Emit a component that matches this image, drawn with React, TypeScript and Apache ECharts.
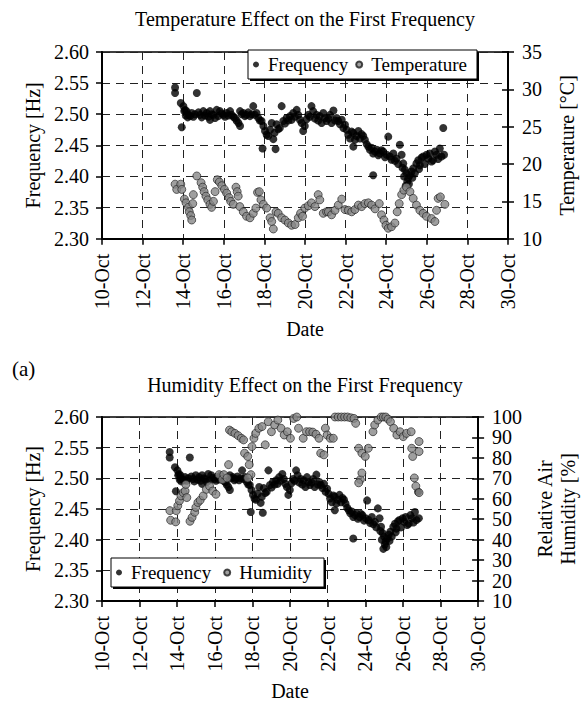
import React, { useEffect, useRef } from "react";
import * as echarts from "echarts";

const FONT = "Liberation Serif";
const MONTH = "Oct";

const freqDays = [
  13.6, 13.6, 13.88, 13.93, 14.01, 14.05, 14.09, 14.13, 14.17, 14.22, 14.26, 14.34, 14.42, 14.5, 14.58, 14.67,
  14.75, 14.83, 14.91, 14.99, 15.07, 15.16, 15.24, 15.32, 15.32, 15.4, 15.49, 15.57, 15.65, 15.73, 15.81, 15.9,
  15.98, 16.06, 16.14, 16.22, 16.31, 16.39, 16.47, 16.55, 16.63, 16.72, 16.8, 16.8, 16.88, 16.96, 17.04, 17.12,
  17.2, 17.29, 17.37, 17.45, 17.53, 17.61, 17.7, 17.78, 17.86, 17.91, 17.95, 18.03, 18.11, 18.19, 18.28, 18.36,
  18.44, 18.5, 18.55, 18.6, 18.68, 18.76, 18.85, 18.93, 19.01, 19.09, 19.18, 19.26, 19.34, 19.42, 19.5, 19.59,
  19.67, 19.75, 19.83, 19.91, 19.99, 20.08, 20.16, 20.24, 20.32, 20.4, 20.49, 20.57, 20.65, 20.73, 20.82, 20.9,
  20.98, 21.06, 21.15, 21.23, 21.31, 21.4, 21.48, 21.56, 21.64, 21.72, 21.81, 21.89, 21.97, 22.05, 22.13, 22.22,
  22.3, 22.38, 22.38, 22.46, 22.54, 22.63, 22.71, 22.79, 22.87, 22.95, 23.04, 23.12, 23.2, 23.28, 23.36, 23.36,
  23.45, 23.53, 23.61, 23.69, 23.77, 23.85, 23.94, 24.02, 24.1, 24.18, 24.26, 24.35, 24.43, 24.51, 24.59, 24.67,
  24.76, 24.8, 24.84, 24.88, 24.92, 24.96, 25.0, 25.04, 25.08, 25.12, 25.17, 25.25, 25.29, 25.33, 25.41, 25.49,
  25.58, 25.62, 25.66, 25.74, 25.82, 25.9, 25.99, 26.07, 26.15, 26.23, 26.31, 26.4, 26.48, 26.56, 26.64, 26.72,
  26.81, 26.85,
];
const freqValues = [
  2.543, 2.534, 2.518, 2.479, 2.513, 2.505, 2.507, 2.498, 2.505, 2.495, 2.499, 2.497, 2.502, 2.496, 2.5, 2.534,
  2.503, 2.499, 2.495, 2.505, 2.498, 2.502, 2.496, 2.491, 2.505, 2.5, 2.499, 2.494, 2.507, 2.497, 2.505, 2.501,
  2.499, 2.496, 2.502, 2.498, 2.505, 2.499, 2.496, 2.494, 2.49, 2.486, 2.481, 2.505, 2.5, 2.502, 2.497, 2.499,
  2.503, 2.497, 2.5, 2.513, 2.499, 2.502, 2.494, 2.49, 2.489, 2.445, 2.481, 2.473, 2.467, 2.465, 2.475, 2.486,
  2.46, 2.47, 2.444, 2.484, 2.476, 2.478, 2.513, 2.489, 2.485, 2.494, 2.49, 2.497, 2.491, 2.502, 2.496, 2.507,
  2.499, 2.491, 2.486, 2.473, 2.481, 2.492, 2.499, 2.496, 2.513, 2.505, 2.493, 2.499, 2.49, 2.497, 2.486, 2.502,
  2.494, 2.489, 2.493, 2.499, 2.486, 2.506, 2.49, 2.494, 2.489, 2.484, 2.491, 2.478, 2.483, 2.475, 2.467, 2.461,
  2.472, 2.47, 2.448, 2.459, 2.465, 2.473, 2.461, 2.468, 2.465, 2.459, 2.452, 2.448, 2.443, 2.446, 2.437, 2.402,
  2.44, 2.443, 2.434, 2.437, 2.442, 2.44, 2.431, 2.435, 2.464, 2.432, 2.427, 2.437, 2.425, 2.429, 2.42, 2.451,
  2.435, 2.414, 2.421, 2.4, 2.411, 2.385, 2.405, 2.392, 2.397, 2.388, 2.402, 2.408, 2.398, 2.413, 2.405, 2.421,
  2.426, 2.412, 2.418, 2.43, 2.432, 2.42, 2.435, 2.429, 2.437, 2.424, 2.426, 2.44, 2.435, 2.428, 2.445, 2.432,
  2.478, 2.435,
];

const tempDays = [
  13.6, 13.68, 13.88, 13.93, 14.06, 14.14, 14.26, 14.3, 14.37, 14.42, 14.5, 14.47, 14.67, 14.88, 14.96, 15.03,
  15.12, 15.21, 15.32, 15.4, 15.49, 15.57, 15.68, 15.78, 15.9, 16.03, 16.14, 16.26, 16.34, 16.47, 16.6, 16.66,
  16.71, 16.79, 16.96, 17.12, 17.29, 17.45, 17.58, 17.66, 17.75, 17.83, 17.95, 18.11, 18.28, 18.36, 18.44, 18.57,
  18.68, 18.85, 19.01, 19.18, 19.34, 19.51, 19.67, 19.78, 19.88, 19.99, 20.16, 20.32, 20.49, 20.65, 20.73, 20.9,
  21.06, 21.15, 21.31, 21.48, 21.64, 21.81, 21.97, 22.13, 22.3, 22.46, 22.63, 22.79, 22.95, 23.12, 23.28, 23.45,
  23.66, 23.77, 23.89, 23.99, 24.1, 24.26, 24.43, 24.54, 24.64, 24.76, 24.87, 25.0, 25.17, 25.33, 25.49, 25.66,
  25.82, 25.98, 26.23, 26.4, 26.48, 26.56, 26.67, 26.89,
];
const tempValues = [
  17.3, 16.6, 17.3, 16.6, 15.3, 14.8, 14.2, 13.6, 13.1, 12.5, 15.9, 14.7, 18.4, 17.5, 16.9, 16.3,
  15.7, 15.2, 14.6, 14.2, 15.0, 16.3, 17.9, 17.6, 17.1, 16.6, 16.1, 15.5, 15.0, 14.6, 16.9, 16.3,
  15.7, 14.3, 13.6, 13.0, 12.8, 13.4, 14.1, 16.2, 16.3, 15.2, 14.6, 14.1, 12.8, 12.3, 11.3, 13.6,
  13.4, 12.8, 12.5, 12.1, 11.8, 11.9, 12.8, 13.4, 13.0, 14.1, 14.4, 14.8, 14.3, 15.9, 15.2, 13.4,
  13.6, 13.6, 13.2, 13.8, 14.5, 15.3, 13.9, 13.8, 13.6, 13.9, 14.5, 14.3, 14.7, 14.8, 14.5, 14.0,
  14.7, 13.2, 12.5, 11.8, 11.4, 11.6, 12.1, 13.6, 14.7, 15.9, 16.5, 16.9, 16.3, 15.4, 14.5, 13.8,
  13.4, 13.0, 12.7, 12.3, 13.8, 15.4, 15.6, 14.6,
];

const humDays = [
  13.61, 13.65, 13.92, 13.95, 14.03, 14.12, 14.2, 14.32, 14.42, 14.46, 14.51, 14.68, 14.79, 14.93, 14.99, 15.1,
  15.22, 15.38, 15.55, 15.72, 15.89, 16.06, 16.23, 16.4, 16.48, 16.65, 16.73, 16.78, 16.9, 17.07, 17.24, 17.41,
  17.53, 17.58, 17.75, 17.83, 17.92, 17.75, 17.97, 18.08, 18.17, 18.34, 18.51, 18.68, 18.84, 19.01, 19.18, 19.35,
  19.52, 19.69, 19.86, 20.02, 20.19, 20.36, 20.45, 20.7, 20.87, 21.04, 21.21, 21.38, 21.54, 21.63, 21.8, 21.88,
  21.97, 22.14, 22.3, 22.39, 22.56, 22.73, 22.9, 23.06, 23.23, 23.4, 23.49, 23.65, 23.82, 24.0, 24.16, 23.74,
  23.82, 23.65, 24.41, 24.5, 24.67, 24.84, 24.96, 25.09, 25.21, 25.34, 25.51, 25.68, 25.85, 26.02, 26.19, 26.44,
  26.47, 26.52, 26.86, 26.86, 26.61, 26.69, 26.86,
];
const humValues = [
  54.2, 49.5, 48.7, 54.2, 56.6, 59.0, 61.4, 63.0, 63.8, 67.0, 60.6, 49.0, 50.9, 53.4, 55.8, 58.2,
  59.3, 61.4, 64.6, 66.2, 63.8, 62.2, 71.8, 69.4, 71.8, 70.2, 76.7, 93.6, 92.8, 92.0, 90.9, 89.6,
  88.8, 82.3, 80.7, 76.7, 71.8, 70.2, 85.5, 89.6, 92.0, 94.5, 95.3, 86.4, 97.7, 92.8, 96.1, 98.5,
  94.5, 91.2, 92.8, 89.6, 99.3, 100, 94.5, 89.6, 92.8, 92.8, 92.6, 91.6, 89.6, 82.3, 81.5, 94.5,
  91.2, 89.6, 89.6, 100, 100, 100, 100, 100, 99.6, 99.3, 96.9, 84.7, 82.3, 80.7, 84.7, 69.4,
  72.6, 67.8, 92.8, 96.1, 98.5, 100, 100, 100, 99.0, 97.7, 94.5, 91.2, 92.8, 90.4, 92.0, 92.8,
  84.7, 80.7, 88.0, 83.1, 70.2, 66.2, 63.0,
];

const pairs = (xs: number[], ys: number[]) => xs.map((x, i) => [x, ys[i]]);

const txt = { fontFamily: FONT, fontSize: 20, color: "#000" };
const axisLine = { show: true, onZero: false, lineStyle: { color: "#000", width: 2 } };
const tickOut = { show: true, inside: false, length: 6, lineStyle: { color: "#000", width: 1.5 } };
const tickIn = { show: true, inside: true, length: 6, lineStyle: { color: "#000", width: 1.5 } };
const dashed = { show: true, lineStyle: { color: "#222", width: 1, type: [8, 6] } };

function xAxisFor(g: number) {
  return {
    type: "value", gridIndex: g, min: 10, max: 30, interval: 2,
    axisLine, axisTick: tickOut,
    axisLabel: { ...txt, rotate: 90, margin: 15, formatter: (v: number) => `${v}-${MONTH}` },
    splitLine: dashed,
    name: "Date", nameLocation: "middle", nameGap: 80, nameTextStyle: txt,
  };
}

function leftAxis(g: number) {
  return {
    type: "value", gridIndex: g, position: "left", min: 2.3, max: 2.6, interval: 0.05,
    axisLine, axisTick: tickOut,
    axisLabel: { ...txt, margin: 13, formatter: (v: number) => v.toFixed(2) },
    splitLine: dashed,
    name: "Frequency [Hz]", nameLocation: "middle", nameRotate: 90, nameGap: 57, nameTextStyle: txt,
  };
}

function rightAxis(g: number, min: number, max: number, interval: number, name: string, gap: number) {
  return {
    type: "value", gridIndex: g, position: "right", min, max, interval,
    axisLine, axisTick: tickOut,
    axisLabel: { ...txt, margin: 14 },
    splitLine: { show: false },
    name, nameLocation: "middle", nameRotate: 90, nameGap: gap,
    nameTextStyle: { ...txt, lineHeight: 23 },
  };
}

function rightInner(g: number, min: number, max: number, interval: number) {
  return {
    type: "value", gridIndex: g, position: "right", min, max, interval,
    axisLine: { show: false }, axisTick: tickIn, axisLabel: { show: false }, splitLine: { show: false },
  };
}

const gray = { color: "#878787", borderColor: "#1a1a1a", borderWidth: 0.8 };
const black = { color: "#000" };

function legendFor(left: number, top: number, gap: number, names: string[]) {
  return {
    left, top, orient: "horizontal",
    data: names.map((n) => ({ name: n, icon: "circle" })),
    itemWidth: 14, itemHeight: 6, itemGap: gap,
    padding: 0,
    textStyle: { fontFamily: FONT, fontSize: 19, color: "#000" },
    selectedMode: false,
  };
}

function legendBox(x: number, y: number, w: number, h: number) {
  return [
    { type: "rect", z: 3, shape: { x: x + 2, y: y + 2, width: w, height: h }, style: { fill: "#000" } },
    { type: "rect", z: 3, shape: { x, y, width: w, height: h }, style: { fill: "#fff", stroke: "#000", lineWidth: 1 } },
  ];
}

const option = {
  animation: false,
  backgroundColor: "#fff",
  textStyle: { fontFamily: FONT },
  graphic: [
    { type: "text", x: 305, y: 19, style: { text: "Temperature Effect on the First Frequency", fill: "#000", textAlign: "center", textVerticalAlign: "middle", font: `20px "${FONT}"` } },
    { type: "text", x: 305, y: 385, style: { text: "Humidity Effect on the First Frequency", fill: "#000", textAlign: "center", textVerticalAlign: "middle", font: `20px "${FONT}"` } },
    { type: "text", x: 12, y: 369, style: { text: "(a)", fill: "#000", textAlign: "left", textVerticalAlign: "middle", font: `21px "${FONT}"` } },
    ...legendBox(248, 50, 229, 29),
    ...legendBox(111, 558, 213, 29),
  ],
  grid: [
    { left: 102, top: 52, width: 406, height: 186.7, show: true, borderColor: "#000", borderWidth: 1.5, backgroundColor: "transparent" },
    { left: 102, top: 417, width: 395, height: 186, show: true, borderColor: "#000", borderWidth: 1.5, backgroundColor: "transparent" },
  ],
  xAxis: [xAxisFor(0), xAxisFor(1)],
  yAxis: [
    leftAxis(0),
    rightAxis(0, 10, 35, 5, "Temperature [°C]", 47),
    rightInner(0, 10, 35, 5),
    leftAxis(1),
    rightAxis(1, 10, 100, 10, "Relative Air\nHumidity [%]", 46),
    rightInner(1, 10, 100, 10),
  ],
  legend: [
    legendFor(253, 55, 7, ["Frequency", "Temperature"]),
    legendFor(116, 563, 12, ["Frequency", "Humidity"]),
  ],
  series: [
    { name: "Frequency", type: "scatter", xAxisIndex: 0, yAxisIndex: 0, symbolSize: 8, itemStyle: black, data: pairs(freqDays, freqValues) },
    { name: "Temperature", type: "scatter", xAxisIndex: 0, yAxisIndex: 1, symbolSize: 8, itemStyle: gray, data: pairs(tempDays, tempValues) },
    { name: "Frequency", type: "scatter", xAxisIndex: 1, yAxisIndex: 3, symbolSize: 8, itemStyle: black, data: pairs(freqDays, freqValues) },
    { name: "Humidity", type: "scatter", xAxisIndex: 1, yAxisIndex: 4, symbolSize: 8, itemStyle: gray, data: pairs(humDays, humValues) },
  ],
};

export default function App() {
  const ref = useRef<HTMLDivElement>(null);
  useEffect(() => {
    if (!ref.current) return;
    const chart = echarts.init(ref.current, null, { renderer: "svg" });
    chart.setOption(option as any);
    return () => chart.dispose();
  }, []);
  return <div ref={ref} style={{ position: "fixed", left: 0, top: 0, width: 587, height: 702, background: "#fff" }} />;
}
